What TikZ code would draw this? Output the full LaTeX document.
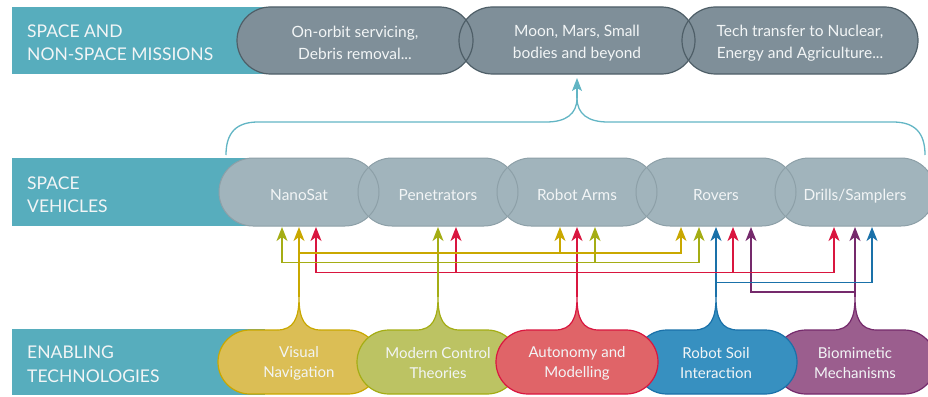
\documentclass[tikz,border=0pt]{standalone}
\usepackage{fontspec}
\setmainfont{Lato}
\usetikzlibrary{arrows.meta}
\definecolor{bandteal}{HTML}{57ADBD}
\definecolor{braceteal}{HTML}{62B5C4}
\definecolor{topfill}{HTML}{7F8F99}
\definecolor{topline}{HTML}{4F5F68}
\definecolor{vehfill}{HTML}{A1B4BC}
\definecolor{vehline}{HTML}{8DA0A8}
\definecolor{txtwhite}{HTML}{F2F5F6}
\definecolor{goldL}{HTML}{C9A800}
\definecolor{goldF}{HTML}{DBBE55}
\definecolor{oliveL}{HTML}{A4AD14}
\definecolor{oliveF}{HTML}{BCC363}
\definecolor{redL}{HTML}{D9163F}
\definecolor{redF}{HTML}{E06468}
\definecolor{blueL}{HTML}{1A71A9}
\definecolor{blueF}{HTML}{3790C0}
\definecolor{purpL}{HTML}{752A6C}
\definecolor{purpF}{HTML}{9B5E8E}
\newcommand{\enbubble}[3]{%
  \filldraw[fill=#2,draw=#3,line width=1.2pt]
    (#1,297) .. controls (#1,318) and (#1+5,330) .. (#1+22,330)
    -- (#1+49,330) arc[start angle=-90,end angle=90,radius=32]
    -- (#1-49,394) arc[start angle=90,end angle=270,radius=32]
    -- (#1-22,330)
    .. controls (#1-5,330) and (#1,318) .. (#1,297);}
\begin{document}
\begin{tikzpicture}[x=1pt,y=-1pt,
  band/.style={fill=bandteal},
  label/.style={anchor=west,align=left,text=txtwhite,inner sep=0pt,font=\fontsize{17.5}{23.5}\selectfont},
  toptext/.style={align=center,text=txtwhite,inner sep=0pt,font=\fontsize{15.5}{22.5}\selectfont},
  vehtext/.style={anchor=base,text=txtwhite,inner sep=0pt,font=\fontsize{15.4}{17}\selectfont},
  entext/.style={align=center,text=txtwhite,inner sep=0pt,font=\fontsize{15}{20}\selectfont},
  link/.style={line width=1.3pt},
  tip/.style={-{Stealth[length=14pt,width=11pt,inset=4pt]}},
  bracestyle/.style={draw=braceteal,line width=1.3pt}
]
\useasboundingbox (0,0) rectangle (928,396);
% bands
\fill[band] (12,7) rectangle (333,74);
\fill[band] (12,158) rectangle (265,226);
\fill[band] (12,329) rectangle (265,395);
\node[label] (l1) at (27,42.5) {SPACE AND\\NON-SPACE MISSIONS};
\node[label] (l2) at (27,194.5) {SPACE\\VEHICLES};
\node[label] (l3) at (27,364) {ENABLING\\TECHNOLOGIES};
% top bubbles
\foreach \cx in {355,577,800}
  \fill[topfill,rounded corners=33.5pt] (\cx-118,7) rectangle (\cx+118,74);
\foreach \cx in {355,577,800}
  \draw[topline,line width=1.2pt,rounded corners=33.5pt] (\cx-118,7) rectangle (\cx+118,74);
\node[toptext] (m1) at (355,43) {On-orbit servicing,\\Debris removal...};
\node[toptext] (m2) at (577,43) {Moon, Mars, Small\\bodies and beyond};
\node[toptext] (m3) at (800,43) {Tech transfer to Nuclear,\\Energy and Agriculture...};
% vehicles
\foreach \cx in {299,438,577,716,855}
  \fill[vehfill,rounded corners=34pt] (\cx-80,158) rectangle (\cx+80,226);
\foreach \cx in {299,438,577,716,855}
  \draw[vehline,line width=1pt,rounded corners=34pt] (\cx-80,158) rectangle (\cx+80,226);
\node[vehtext] (v1) at (299,200) {NanoSat};
\node[vehtext] (v2) at (438,200) {Penetrators};
\node[vehtext] (v3) at (577,200) {Robot Arms};
\node[vehtext] (v4) at (716,200) {Rovers};
\node[vehtext] (v5) at (855,200) {Drills/Samplers};
% brace
\coordinate (bl) at (226,155);
\coordinate (br) at (925,155);
\coordinate (bm) at (577,98);
\coordinate (btip) at (577,78);
\draw[bracestyle] (bl) .. controls (226,133) and (236,122) .. (258,122) -- (546,122)
  .. controls (566,122) and (577,114) .. (bm);
\draw[bracestyle] (br) .. controls (925,133) and (915,122) .. (893,122) -- (608,122)
  .. controls (588,122) and (577,114) .. (bm);
\draw[bracestyle,-{Stealth[length=13pt,width=10pt,inset=3pt]}] (bm) -- (btip);
% enabling bubbles
\enbubble{299}{goldF}{goldL}
\enbubble{438}{oliveF}{oliveL}
\enbubble{855}{purpF}{purpL}
\enbubble{716}{blueF}{blueL}
\enbubble{577}{redF}{redL}
\node[entext] (e1) at (299,363) {Visual\\Navigation};
\node[entext] (e2) at (438,363) {Modern Control\\Theories};
\node[entext] (e3) at (577,363) {Autonomy and\\Modelling};
\node[entext] (e4) at (716,363) {Robot Soil\\Interaction};
\node[entext] (e5) at (855,363) {Biomimetic\\Mechanisms};
% trunk starts
\coordinate (s1) at (299,297);
\coordinate (s2) at (438,297);
\coordinate (s3) at (577,297);
\coordinate (s4) at (716,297);
\coordinate (s5) at (855,297);
% arrow tips
\coordinate (nO) at (282,227);
\coordinate (nG) at (299,227);
\coordinate (nR) at (316,227);
\coordinate (pO) at (438,227);
\coordinate (pR) at (456,227);
\coordinate (aG) at (560,227);
\coordinate (aR) at (577,227);
\coordinate (aO) at (595,227);
\coordinate (rG) at (681,227);
\coordinate (rO) at (699,227);
\coordinate (rB) at (716,227);
\coordinate (rR) at (733,227);
\coordinate (rP) at (751,227);
\coordinate (dR) at (834,227);
\coordinate (dP) at (855,227);
\coordinate (dB) at (872,227);
% bus rows
\coordinate (yG) at (0,253);
\coordinate (yO) at (0,262.5);
\coordinate (yR) at (0,272.5);
\coordinate (yB) at (0,282.5);
\coordinate (yP) at (0,292);
% purple
\draw[link,purpL,tip] (s5) -- (dP);
\draw[link,purpL,tip] (s5 |- yP) -| (rP);
% blue
\draw[link,blueL,tip] (s4) -- (rB);
\draw[link,blueL,tip] (s4 |- yB) -| (dB);
% red
\draw[link,redL,tip] (s3) -- (aR);
\draw[link,redL,tip] (s3 |- yR) -| (nR);
\draw[link,redL,tip] (s3 |- yR) -| (dR);
\draw[link,redL,tip] (pR |- yR) -- (pR);
\draw[link,redL,tip] (rR |- yR) -- (rR);
% olive
\draw[link,oliveL,tip] (s2) -- (pO);
\draw[link,oliveL,tip] (s2 |- yO) -| (nO);
\draw[link,oliveL,tip] (s2 |- yO) -| (rO);
\draw[link,oliveL,tip] (aO |- yO) -- (aO);
% gold
\draw[link,goldL,tip] (s1) -- (nG);
\draw[link,goldL,tip] (s1 |- yG) -| (rG);
\draw[link,goldL,tip] (aG |- yG) -- (aG);
\end{tikzpicture}
\end{document}
